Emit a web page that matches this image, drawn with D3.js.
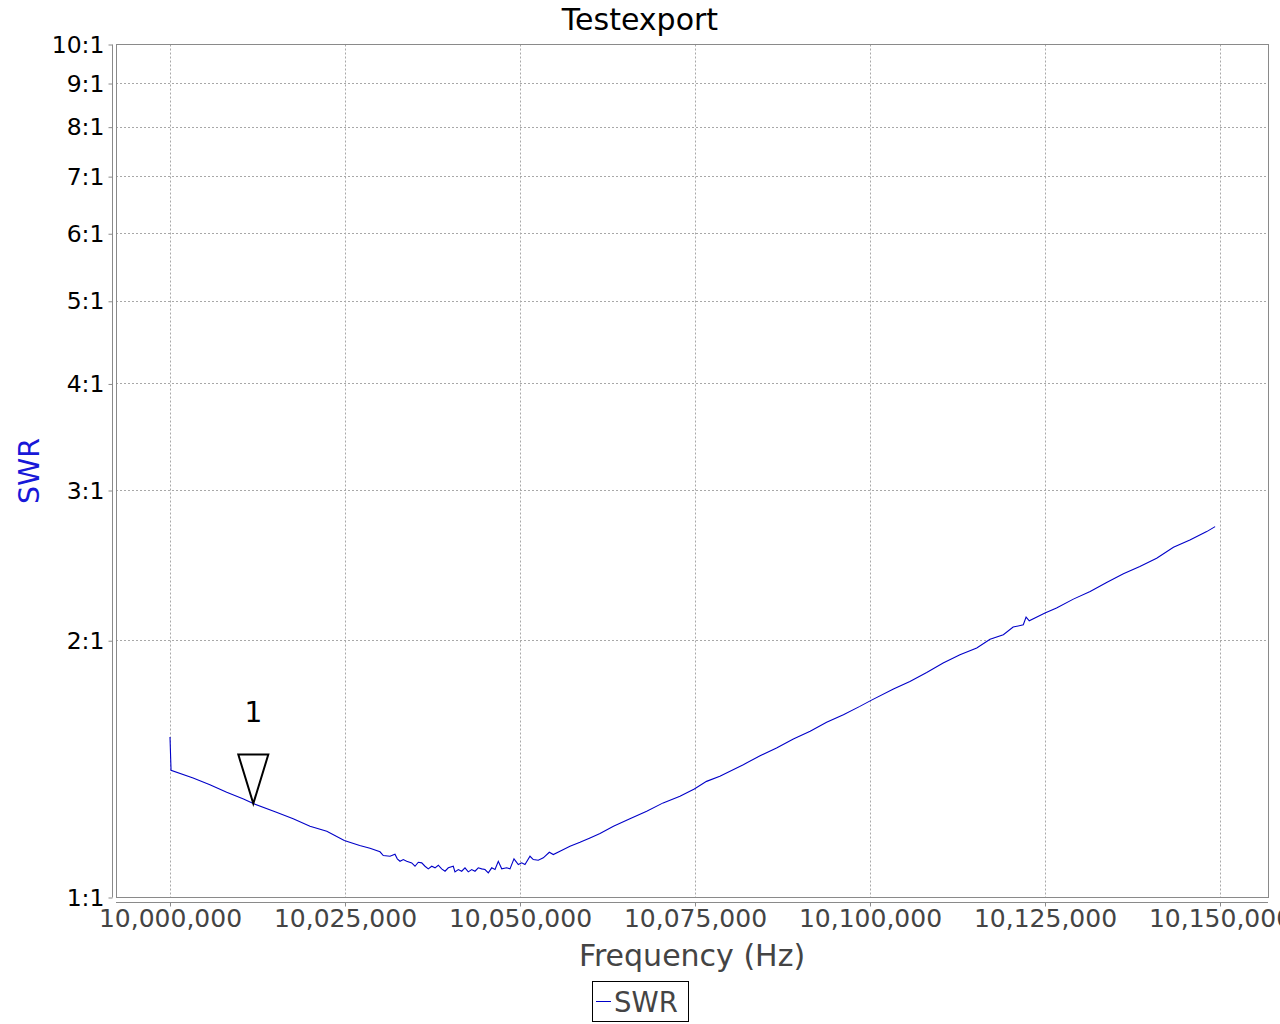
<!DOCTYPE html>
<html><head><meta charset="utf-8">
<script src="https://cdn.jsdelivr.net/npm/d3@7"></script>
<style>body{margin:0;background:#fff}svg{display:block;font-family:"DejaVu Sans",sans-serif}</style>
</head><body><svg id="c" width="1280" height="1024"></svg>
<script>
const title = "Testexport";
const xTitle = "Frequency (Hz)";
const yTitle = "SWR";
const seriesName = "SWR";
const xTicks = [10000000, 10025000, 10050000, 10075000, 10100000, 10125000, 10150000];
const yTicks = [1, 2, 3, 4, 5, 6, 7, 8, 9, 10];
const yTickLabels = ["1:1","2:1","3:1","4:1","5:1","6:1","7:1","8:1","9:1","10:1"];
const freqs = [10000000,10000150,10003300,10005700,10008100,10010500,10011900,10015200,10017600,10020000,
 10022400,10024900,10027100,10028570,10030000,10030470,10031430,10032140,10032470,10032860,
 10033330,10033810,10034530,10035000,10035470,10035960,10036430,10036900,10037390,10037860,
 10038330,10038810,10039290,10039760,10040470,10040710,10041190,10041670,10042140,10042610,
 10043100,10043570,10044040,10044530,10045000,10045470,10045960,10046430,10046900,10047390,
 10048100,10048570,10049140,10049760,10050240,10050710,10051430,10051900,10052610,10053330,
 10054190,10054760,10055710,10057140,10058570,10060000,10061430,10063350,10065700,10068100,
 10070450,10072850,10074900,10076650,10078550,10081900,10084300,10086650,10089050,10091450,
 10093800,10096200,10098550,10100150,10103350,10105700,10108100,10110450,10112850,10115250,
 10117150,10119050,10120450,10121900,10122300,10122750,10125000,10126650,10129050,10131450,
 10133800,10136200,10138550,10140950,10143350,10145700,10148100,10149300];
const swr = [1.5426,1.4094,1.3808,1.3561,1.3283,1.3049,1.2885,1.2586,1.2365,1.2120,
 1.1958,1.1660,1.1506,1.1420,1.1312,1.1199,1.1178,1.1239,1.1100,1.1027,
 1.1079,1.1027,1.0980,1.0880,1.0999,1.0980,1.0880,1.0804,1.0880,1.0834,
 1.0910,1.0804,1.0735,1.0834,1.0880,1.0717,1.0784,1.0735,1.0834,1.0717,
 1.0784,1.0735,1.0834,1.0804,1.0784,1.0689,1.0834,1.0784,1.1027,1.0804,
 1.0834,1.0804,1.1100,1.0930,1.0980,1.0930,1.1178,1.1079,1.1057,1.1130,
 1.1299,1.1230,1.1331,1.1484,1.1609,1.1746,1.1884,1.2120,1.2365,1.2621,
 1.2910,1.3141,1.3405,1.3682,1.3868,1.4313,1.4664,1.4972,1.5343,1.5661,
 1.6045,1.6381,1.6752,1.7025,1.7556,1.7920,1.8360,1.8831,1.9257,1.9608,
 2.0079,2.0324,2.0750,2.0879,2.1317,2.1105,2.1548,2.1841,2.2377,2.2840,
 2.3401,2.3956,2.4432,2.4992,2.5744,2.6256,2.6850,2.7215];
const markerLabels = ["1"];
const markerFreqs = [10011900];
const markerSWR = [1.2885];

const svg = d3.select("#c");
const L = 116, R = 1268, T = 44.5, B = 897.5;
const x = d3.scaleLinear().domain([9992286, 10156857]).range([L, R]);
const y = d3.scaleLog().domain([1, 10]).range([B, T]);
const fmt = d3.format(",");
const lineColor = "#0000c8";

// grid
svg.append("g").selectAll("line").data(yTicks).join("line")
  .attr("x1", L).attr("x2", R).attr("y1", d => y(d)).attr("y2", d => y(d))
  .attr("stroke", "#a8a8a8").attr("stroke-dasharray", "2,2").attr("shape-rendering","crispEdges");
svg.append("g").selectAll("line").data(xTicks).join("line")
  .attr("x1", d => Math.round(x(d))+0.5).attr("x2", d => Math.round(x(d))+0.5).attr("y1", T).attr("y2", B)
  .attr("stroke", "#a8a8a8").attr("stroke-dasharray", "2,2");
// plot border
svg.append("rect").attr("x", L).attr("y", T).attr("width", R-L).attr("height", B-T)
  .attr("fill","none").attr("stroke","#8a8a8a").attr("shape-rendering","crispEdges");

// y axis
const yAx = svg.append("g").attr("transform", `translate(112.5,0)`)
  .call(d3.axisLeft(y).tickValues(yTicks).tickFormat((d,i) => yTickLabels[i]).tickSize(4).tickPadding(4));
yAx.select(".domain").attr("stroke","#8a8a8a").attr("d", `M-0,${T}V${B}`);
yAx.selectAll(".tick line").attr("stroke","#8a8a8a");
yAx.selectAll("text").attr("font-size", 23.5).attr("fill","#000").attr("font-family","DejaVu Sans");

// x axis
const xAx = svg.append("g").attr("transform", `translate(0,902.5)`)
  .call(d3.axisBottom(x).tickValues(xTicks).tickFormat(fmt).tickSize(4).tickPadding(3));
xAx.select(".domain").attr("stroke","#8a8a8a").attr("d", `M${L},0H${R}`);
xAx.selectAll(".tick line").attr("stroke","#8a8a8a");
xAx.selectAll("text").attr("font-size", 25).attr("fill","#444").attr("font-family","DejaVu Sans");

// data line
const data = freqs.map((f,i) => [f, swr[i]]);
svg.append("path").datum(data)
  .attr("fill","none").attr("stroke", lineColor).attr("stroke-width", 1.1)
  .attr("d", d3.line().x(d => x(d[0])).y(d => y(d[1])));

// markers
markerFreqs.forEach((f,i) => {
  const mx = x(f), my = y(markerSWR[i]);
  svg.append("path").attr("d", `M${mx-15},${my-49}L${mx+15},${my-49}L${mx},${my}Z`)
    .attr("fill","none").attr("stroke","#000").attr("stroke-width",2);
  svg.append("text").attr("x", mx).attr("y", my-91).attr("text-anchor","middle")
    .attr("dominant-baseline","central").attr("font-size",28).attr("fill","#000").text(markerLabels[i]);
});

// titles
svg.append("text").attr("x", 640).attr("y", 19).attr("text-anchor","middle").attr("dominant-baseline","central")
  .attr("font-size", 30).attr("fill","#000").text(title);
svg.append("text").attr("x", (L+R)/2).attr("y", 955).attr("text-anchor","middle").attr("dominant-baseline","central")
  .attr("font-size", 30).attr("fill","#444").text(xTitle);
svg.append("text").attr("transform", `translate(29,${(T+B)/2}) rotate(-90)`).attr("text-anchor","middle")
  .attr("dominant-baseline","central").attr("font-size", 28.5).attr("fill","#1818d8").text(yTitle);

// legend
svg.append("rect").attr("x", 592.5).attr("y", 981.5).attr("width", 96).attr("height", 40)
  .attr("fill","#fff").attr("stroke","#000");
svg.append("line").attr("x1", 596).attr("x2", 611).attr("y1", 1001.5).attr("y2", 1001.5).attr("stroke", lineColor);
svg.append("text").attr("x", 614).attr("y", 1002).attr("dominant-baseline","central")
  .attr("font-size", 27.5).attr("fill","#444").text(seriesName);
</script></body></html>
